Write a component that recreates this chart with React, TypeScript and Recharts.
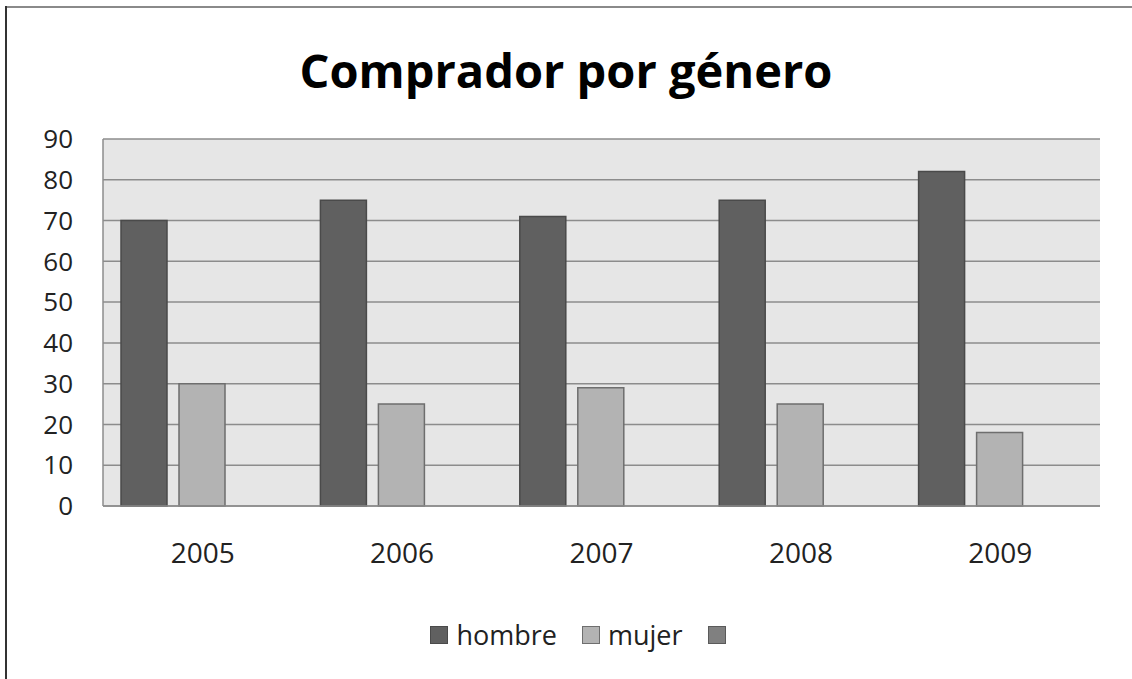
import React from 'react';
import { BarChart, Bar, XAxis, YAxis, CartesianGrid, Legend } from 'recharts';

const categories = ['2005', '2006', '2007', '2008', '2009'];
const hombre = [70, 75, 71, 75, 82];
const mujer = [30, 25, 29, 25, 18];
const serie3: (number | null)[] = [null, null, null, null, null];
const yTicks = [0, 10, 20, 30, 40, 50, 60, 70, 80, 90];
const seriesOrder = ['hombre', 'mujer', 's3'];

const data = categories.map((c, i) => ({ year: c, hombre: hombre[i], mujer: mujer[i], s3: serie3[i] }));

const FONT = '"Open Sans", Calibri, sans-serif';

const legendStrokes: Record<string, string> = { hombre: '#4a4a4a', mujer: '#6e6e6e', s3: '#5a5a5a' };

const LegendContent = (props: any) => {
  const payload = [...(props.payload || [])].sort(
    (a: any, b: any) => seriesOrder.indexOf(a.dataKey) - seriesOrder.indexOf(b.dataKey)
  );
  return (
    <div style={{ display: 'flex', justifyContent: 'center', alignItems: 'center', fontFamily: FONT, fontSize: 27, color: '#222', paddingLeft: 24 }}>
      {payload.map((p: any, i: number) => (
        <div key={i} style={{ display: 'flex', alignItems: 'center', marginLeft: i === 0 ? 0 : 25 }}>
          <div style={{ width: 16, height: 16, background: p.color, border: `1px solid ${legendStrokes[p.dataKey] || '#555'}`, marginRight: p.value ? 8 : 0 }} />
          <span style={{ lineHeight: '28px' }}>{p.value}</span>
        </div>
      ))}
    </div>
  );
};

export default function App() {
  return (
    <div style={{ position: 'absolute', left: 0, top: 0, width: 1132, height: 679, background: '#fff', overflow: 'hidden' }}>
      <div style={{ position: 'absolute', left: 5, top: 6, width: 2, height: 679, background: '#333' }} />
      <div style={{ position: 'absolute', left: 7, top: 6, width: 1125, height: 2, background: '#8a8a8a' }} />
      <div style={{ position: 'absolute', left: 0, top: 38, width: 1132, textAlign: 'center', fontFamily: FONT, fontWeight: 700, fontSize: 47, color: '#000', lineHeight: '64px' }}>
        Comprador por género
      </div>
      <BarChart
        width={1132}
        height={679}
        data={data}
        margin={{ top: 139, right: 32, bottom: 113, left: 0 }}
        barCategoryGap={18}
        barGap={12}
        style={{ position: 'absolute', left: 0, top: 0 }}
      >
        <CartesianGrid horizontal vertical={false} stroke="#8c8c8c" strokeWidth={1.5} fill="#e6e6e6" />
        <XAxis
          dataKey="year"
          height={60}
          tickLine={false}
          tickSize={0}
          tickMargin={37}
          axisLine={{ stroke: '#8c8c8c', strokeWidth: 1.5 }}
          tick={{ fontSize: 28, fill: '#222', fontFamily: FONT }}
        />
        <YAxis
          width={103}
          domain={[0, 90]}
          ticks={yTicks}
          interval={0}
          tickLine={false}
          tickSize={0}
          tickMargin={30}
          axisLine={{ stroke: '#8c8c8c', strokeWidth: 1.5 }}
          tick={{ fontSize: 26, fill: '#222', fontFamily: FONT }}
        />
        <Legend
          layout="horizontal"
          verticalAlign="middle"
          align="center"
          content={<LegendContent />}
          wrapperStyle={{ position: 'absolute', top: 621, left: 0, width: 1132 }}
        />
        <Bar dataKey="hombre" name="hombre" fill="#606060" stroke="#4a4a4a" strokeWidth={1.5} isAnimationActive={false} />
        <Bar dataKey="mujer" name="mujer" fill="#b3b3b3" stroke="#6e6e6e" strokeWidth={1.5} isAnimationActive={false} />
        <Bar dataKey="s3" name="" fill="#808080" stroke="#5a5a5a" strokeWidth={1.5} isAnimationActive={false} />
      </BarChart>
    </div>
  );
}
